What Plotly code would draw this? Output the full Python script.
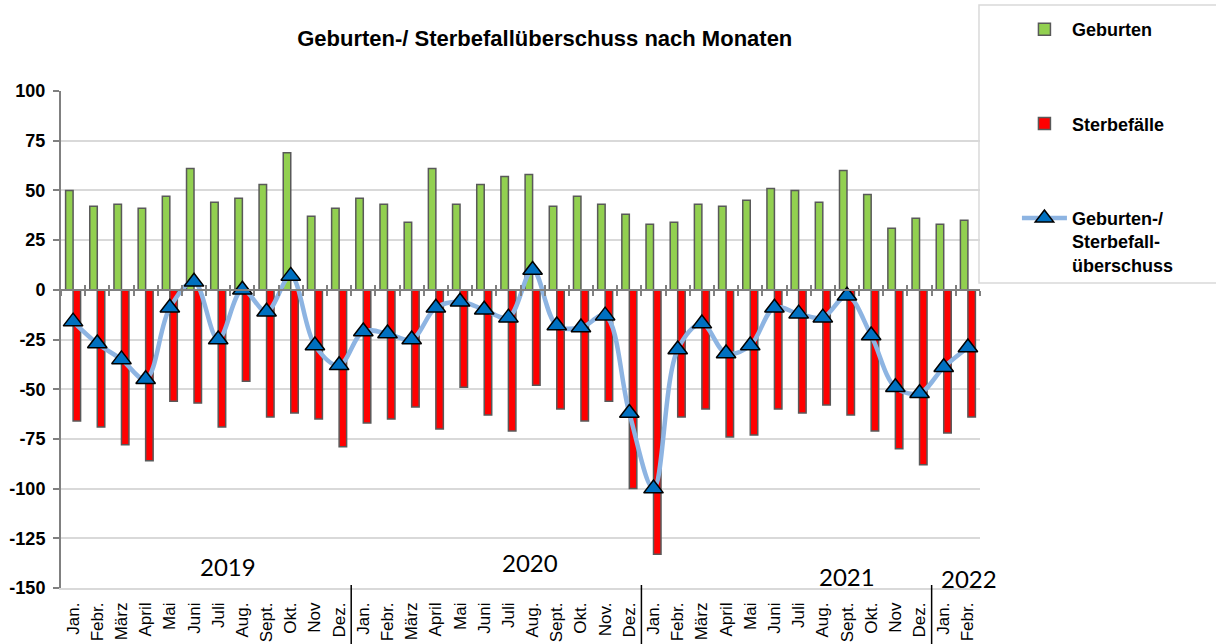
import plotly.graph_objects as go

years = ["2019", "2020", "2021", "2022"]
months_per_year = [12, 12, 12, 2]
month_labels = [
    "Jan.", "Febr.", "März", "April", "Mai", "Juni", "Juli", "Aug.", "Sept.", "Okt.", "Nov", "Dez.",
    "Jan.", "Febr.", "März", "April", "Mai", "Juni", "Juli", "Aug.", "Sept.", "Okt.", "Nov.", "Dez.",
    "Jan.", "Febr.", "März", "April", "Mai", "Juni", "Juli", "Aug.", "Sept.", "Okt.", "Nov", "Dez.",
    "Jan.", "Febr.",
]
geburten = [50, 42, 43, 41, 47, 61, 44, 46, 53, 69, 37, 41,
            46, 43, 34, 61, 43, 53, 57, 58, 42, 47, 43, 38,
            33, 34, 43, 42, 45, 51, 50, 44, 60, 48, 31, 36,
            33, 35]
sterbefaelle = [-66, -69, -78, -86, -56, -57, -69, -46, -64, -62, -65, -79,
                -67, -65, -59, -70, -49, -63, -71, -48, -60, -66, -56, -100,
                -133, -64, -60, -74, -73, -60, -62, -58, -63, -71, -80, -88,
                -72, -64]
ueberschuss = [-16, -27, -35, -45, -9, 4, -25, 0, -11, 7, -28, -38,
               -21, -22, -25, -9, -6, -10, -14, 10, -18, -19, -13, -62,
               -100, -30, -17, -32, -28, -9, -12, -14, -3, -23, -49, -52,
               -39, -29]
y_ticks = [100, 75, 50, 25, 0, -25, -50, -75, -100, -125, -150]
y_tick_labels = ["100", "75", "50", "25", "0", "-25", "-50", "-75", "-100", "-125", "-150"]
# position of the year captions inside the plot (category units, value units)
year_label_x = [6.4, 18.9, 32.0, 37.05]
year_label_y = [-139, -137, -144, -145]

n = len(month_labels)
xs = list(range(n))
boundaries = [i - 0.5 for i in range(n + 1)]
year_breaks = []
acc = 0
for c in months_per_year[:-1]:
    acc += c
    year_breaks.append(acc - 0.5)

AX_GRAY = "#808080"
GRID = "#D9D9D9"
FONT = "Arial, Liberation Sans"

fig = go.Figure()
fig.add_trace(go.Bar(
    x=xs, y=geburten, name="Geburten",
    marker=dict(color="#92D050", line=dict(color="#595959", width=1.5)),
    legendgroup="g1",
))
fig.add_trace(go.Bar(
    x=xs, y=sterbefaelle, name="Sterbefälle",
    marker=dict(color="#FF0000", line=dict(color="#595959", width=1.5)),
    legendgroup="g2",
))
fig.add_trace(go.Scatter(
    x=xs, y=ueberschuss, name="Geburten-/<br>Sterbefall-<br>überschuss",
    mode="lines+markers", xaxis="x2",
    line=dict(color="#8DB4E2", width=4.5, shape="spline", smoothing=1.0),
    marker=dict(symbol="triangle-up", size=17, color="#0070C0",
                line=dict(color="black", width=1.5)),
    legendgroup="g3",
))
fig.add_trace(go.Scatter(
    x=xs, y=ueberschuss, xaxis="x3", mode="lines",
    line=dict(color="rgba(0,0,0,0)", width=0), showlegend=False, hoverinfo="skip",
))

shapes = []
for b in year_breaks:
    shapes.append(dict(type="line", xref="x", yref="paper", x0=b, x1=b,
                       y0=0.006, y1=-0.125, line=dict(color="black", width=1.5)))
shapes.append(dict(type="rect", xref="paper", yref="paper",
                   x0=0.9989, x1=1.30, y0=0.6137, y1=1.173,
                   line=dict(color=GRID, width=1.5), fillcolor="rgba(0,0,0,0)", layer="below"))

annotations = []
for yr, ax_, ay_ in zip(years, year_label_x, year_label_y):
    annotations.append(dict(x=ax_, y=ay_, xref="x", yref="y", text=yr, showarrow=False,
                            font=dict(family="Lato", size=24, color="black")))

xrange = [-0.5, n - 0.5]
fig.update_layout(
    width=1216, height=644,
    margin=dict(l=61, r=236, t=91, b=56, autoexpand=False),
    paper_bgcolor="white", plot_bgcolor="white",
    barmode="group", bargap=0.38, bargroupgap=0.0,
    title=dict(text="<b>Geburten-/ Sterbefallüberschuss nach Monaten</b>",
               x=0.448, xanchor="center", y=0.941, yanchor="middle",
               font=dict(family=FONT, size=22, color="black")),
    xaxis=dict(range=xrange, tickmode="array", tickvals=xs, ticktext=month_labels,
               tickangle=-90, ticks="", showgrid=False, zeroline=False, automargin=False,
               showline=True, linecolor=GRID, linewidth=1.5,
               tickfont=dict(family=FONT, size=17, color="black"),
               ticklabelstandoff=6),
    xaxis2=dict(overlaying="x", matches="x", anchor="free", position=0.6, side="bottom",
                tickmode="array", tickvals=boundaries, ticks="outside", ticklen=5,
                tickcolor=AX_GRAY, tickwidth=1.5, showticklabels=False, showgrid=False,
                zeroline=False, showline=True, linecolor=AX_GRAY, linewidth=2, automargin=False),
    xaxis3=dict(overlaying="x", matches="x", anchor="free", position=0.6, side="bottom",
                tickmode="array", tickvals=boundaries, ticks="inside", ticklen=5,
                tickcolor=AX_GRAY, tickwidth=1.5, showticklabels=False, showgrid=False,
                zeroline=False, showline=False, automargin=False),
    yaxis=dict(range=[-150, 100], tickmode="array", tickvals=y_ticks, ticktext=y_tick_labels,
               showgrid=True, gridcolor=GRID, gridwidth=1.5, zeroline=False, automargin=False,
               showline=True, linecolor=AX_GRAY, linewidth=2,
               ticks="outside", ticklen=6, tickcolor=AX_GRAY, tickwidth=1.5,
               tickfont=dict(family=FONT, size=18, color="black", weight="bold"),
               ticklabelstandoff=4),
    legend=dict(xref="container", yref="container", x=0.8363, y=0.983,
                xanchor="left", yanchor="top",
                traceorder="grouped", tracegroupgap=68, valign="top",
                bgcolor="rgba(0,0,0,0)", borderwidth=0, itemwidth=45,
                font=dict(family=FONT, size=18, color="black", weight="bold")),
    shapes=shapes, annotations=annotations,
    showlegend=True,
)

fig.write_html("out.html", config={"displayModeBar": False},
               post_script="document.body.style.margin='0px';document.body.style.overflow='hidden';")
